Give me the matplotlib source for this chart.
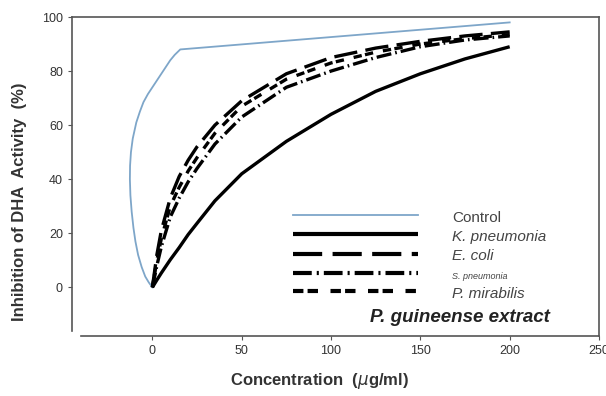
"""DHA activity inhibition vs P. guineense extract concentration."""
import matplotlib
matplotlib.use('Agg')
import matplotlib.pyplot as plt

plt.rcParams['font.family'] = ['Liberation Sans', 'DejaVu Sans']

# control path
control_x = [0, -2, -4, -6, -8, -9.5, -10.6, -11.6, -12.3, -12.6, -12.5, -12, -11,
             -9, -7, -5, -2.5, 0, 2.5, 5, 7.5, 10, 12.5, 15.6, 200]
control_y = [0, 1.8, 4, 7.5, 12, 17, 22, 28, 34, 40, 45, 50, 55,
             61, 65, 68.5, 71.5, 74, 76.5, 79, 81.5, 84, 86, 88, 98]

conc = [0, 2.5, 5, 10, 15, 20, 25, 35, 50, 75, 100, 125, 150, 175, 200]
k_pneumonia = [0, 2.7, 5.3, 10.2, 14.7, 19.5, 23.7, 32, 42, 54, 64, 72.5, 79, 84.5, 89]
e_coli = [0, 12, 21, 33, 41, 47, 52, 60, 69, 79, 85, 88.5, 91, 93, 94.5]
s_pneumonia = [0, 8, 15, 26, 33, 39, 44, 53, 63, 74, 80, 85, 89, 91.5, 93]
p_mirabilis = [0, 10, 18, 30, 37, 43, 48, 57, 67, 77, 83, 87, 90, 92, 93.5]

x_ticks = [0, 50, 100, 150, 200, 250]
y_ticks = [0, 20, 40, 60, 80, 100]

W, H = 606, 396
fig = plt.figure(figsize=(W / 100, H / 100), dpi=100)
ax = fig.add_axes([72 / W, 1 - 336 / H, 527 / W, 319 / H])

lw = 2.4
ax.plot(control_x, control_y, color='#7ea6c9', lw=1.3, label='Control')
ax.plot(conc, k_pneumonia, color='black', lw=lw, solid_capstyle='butt',
        label='K. pneumonia')
ax.plot(conc, e_coli, color='black', lw=lw, dashes=(7, 2.5),
        label='E. coli')
ax.plot(conc, s_pneumonia, color='black', lw=lw, dashes=(4.5, 1.2, 0.5, 1.2),
        label='S. pneumonia')
ax.plot(conc, p_mirabilis, color='black', lw=lw, dashes=(2.5, 1, 2.5, 3),
        label='P. mirabilis')

ax.set_xlim(-45, 250)
ax.set_ylim(-18, 100)
ax.set_xticks(x_ticks)
ax.set_yticks(y_ticks)
ax.tick_params(direction='out', length=3, width=0.8, colors='#555555',
               labelsize=9, labelcolor='#333333')
for s in ax.spines.values():
    s.set_color('#555555')
    s.set_linewidth(1.2)
ax.spines['bottom'].set_bounds(-40, 250)
ax.spines['left'].set_bounds(-16, 100)

ax.set_xlabel('Concentration  ($\\mu$g/ml)', fontsize=12, fontweight='bold',
              color='#333333')
ax.set_ylabel('Inhibition of DHA  Activity  (%)', fontsize=12,
              fontweight='bold', color='#333333')
ax.xaxis.set_label_coords(0.469, -0.11)
ax.yaxis.set_label_coords(-0.085, 0.42)

leg = ax.legend(loc='upper left', bbox_to_anchor=(293 / W, 1 - 209 / H),
                bbox_transform=fig.transFigure, frameon=False,
                handlelength=8.2, handleheight=1.15, handletextpad=2.2,
                borderpad=0, borderaxespad=0, labelspacing=0.22, fontsize=11)
for i, t in enumerate(leg.get_texts()):
    t.set_color('#444444')
    if i > 0:
        t.set_fontstyle('italic')
    if i == 3:
        t.set_fontsize(6.5)
for h in leg.get_lines():
    if h.get_color() == 'black':
        h.set_linewidth(3)

ax.text(550 / W, 1 - 318 / H, 'P. guineense extract', transform=fig.transFigure,
        ha='right', va='center', fontsize=13.5, fontweight='bold',
        fontstyle='italic', color='#222222')

fig.savefig('out.png', dpi=100)
